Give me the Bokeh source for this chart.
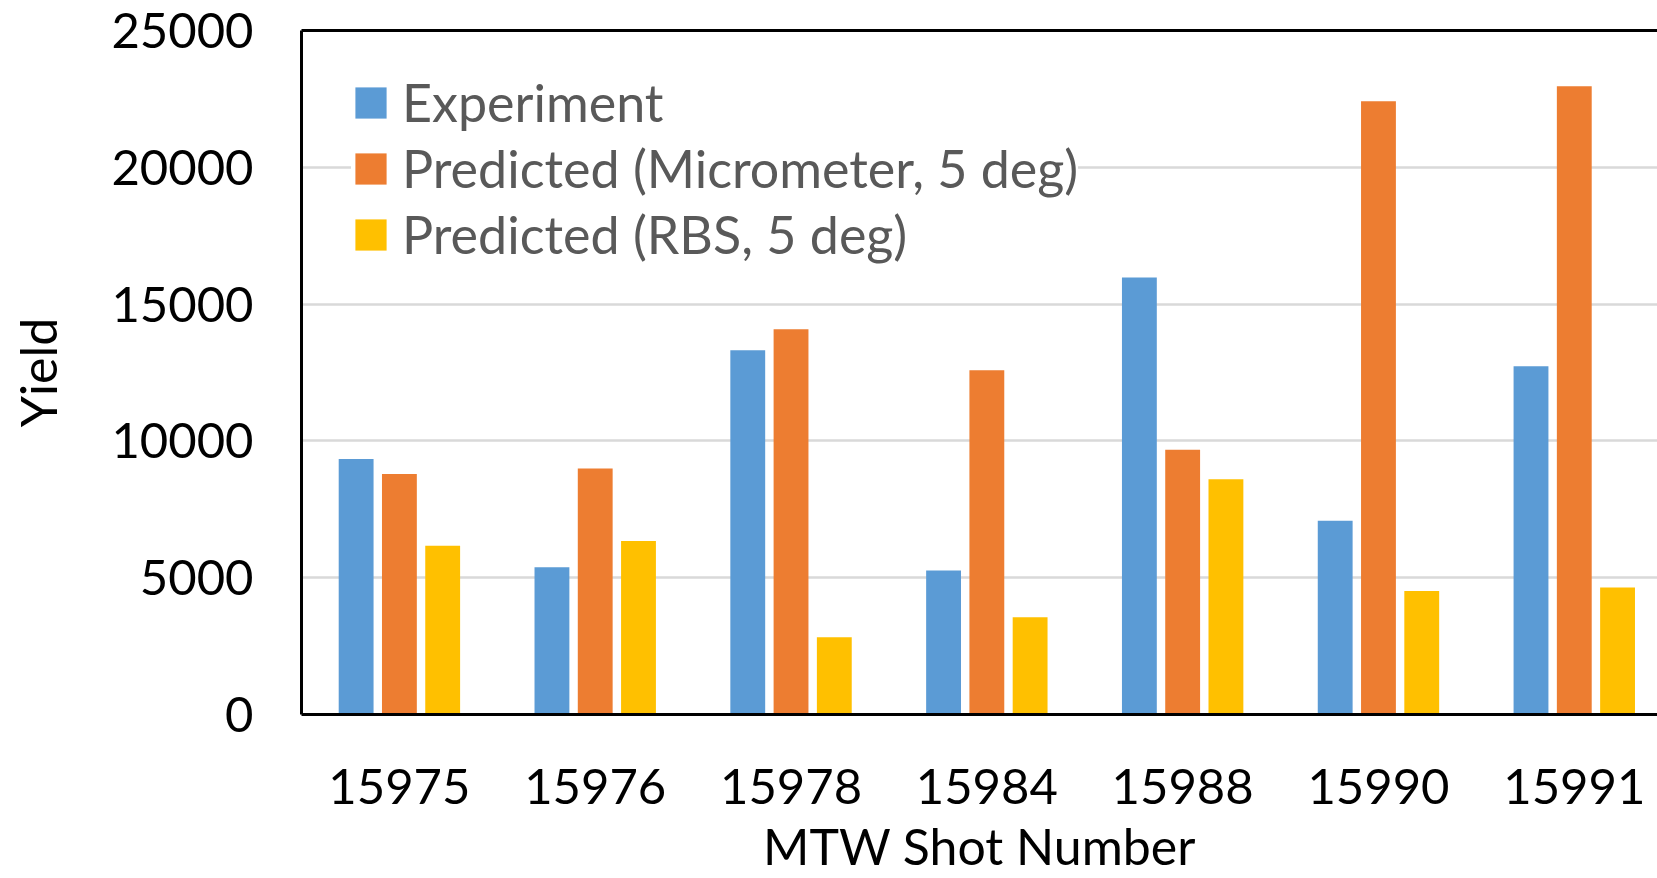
from bokeh.plotting import figure
from bokeh.models import ColumnDataSource, Range1d, FixedTicker, LinearAxis, Legend, LegendItem
from bokeh.transform import dodge
from bokeh.embed import file_html
from bokeh.resources import INLINE

shots = ["15975", "15976", "15978", "15984", "15988", "15990", "15991"]
experiment = [9340, 5380, 13310, 5260, 15970, 7080, 12730]
pred_micrometer = [8790, 8990, 14080, 12580, 9680, 22410, 22960]
pred_rbs = [6170, 6340, 2820, 3550, 8600, 4510, 4640]
series_names = ["Experiment", "Predicted (Micrometer, 5 deg)", "Predicted (RBS, 5 deg)"]
y_ticks = [0, 5000, 10000, 15000, 20000, 25000]

colors = ["#5B9BD5", "#ED7D31", "#FFC000"]
FONT = "Lato"

src = ColumnDataSource(dict(idx=list(range(len(shots))), exp=experiment,
                            mic=pred_micrometer, rbs=pred_rbs))

p = figure(width=1657, height=878, output_backend="svg", toolbar_location=None,
           x_range=Range1d(-0.5, 6.425), y_range=Range1d(0, 25000),
           min_border_left=301, min_border_right=0, min_border_top=30, min_border_bottom=164)
p.outline_line_color = None

bw = 0.178
off = 0.221
r1 = p.vbar(x=dodge("idx", -off), top="exp", width=bw, source=src, fill_color=colors[0], line_color=None)
r2 = p.vbar(x=dodge("idx", 0.0), top="mic", width=bw, source=src, fill_color=colors[1], line_color=None)
r3 = p.vbar(x=dodge("idx", off), top="rbs", width=bw, source=src, fill_color=colors[2], line_color=None)

# axes
p.xaxis.ticker = FixedTicker(ticks=list(range(len(shots))))
p.xaxis.major_label_overrides = {i: s for i, s in enumerate(shots)}
p.yaxis.ticker = FixedTicker(ticks=y_ticks)
for ax in (p.xaxis[0], p.yaxis[0]):
    ax.axis_line_color = "black"
    ax.axis_line_width = 3
    ax.major_tick_line_color = None
    ax.minor_tick_line_color = None
    ax.major_label_text_font = FONT
    ax.major_label_text_font_size = "49px"
    ax.major_label_text_color = "black"
    ax.axis_label_text_font = FONT
    ax.axis_label_text_font_size = "50px"
    ax.axis_label_text_font_style = "normal"
    ax.axis_label_text_color = "black"
p.xaxis.axis_label = "MTW Shot Number"
p.yaxis.axis_label = "Yield"
p.xaxis.major_label_standoff = 48
p.xaxis.axis_label_standoff = 9
p.yaxis.major_label_standoff = 42
p.yaxis.axis_label_standoff = 40

top_axis = LinearAxis(ticker=FixedTicker(ticks=[]), major_label_text_font_size="0px",
                      major_tick_line_color=None, minor_tick_line_color=None,
                      axis_line_color="black", axis_line_width=3)
p.add_layout(top_axis, "above")

p.xgrid.grid_line_color = None
p.ygrid.ticker = FixedTicker(ticks=y_ticks)
p.ygrid.grid_line_color = "#D9D9D9"
p.ygrid.grid_line_width = 2.5

legend = Legend(items=[LegendItem(label=series_names[0], renderers=[r1]),
                       LegendItem(label=series_names[1], renderers=[r2]),
                       LegendItem(label=series_names[2], renderers=[r3])],
                location=(50, 449))
legend.label_text_font = FONT
legend.label_text_font_size = "52px"
legend.label_text_color = "#595959"
legend.glyph_width = 39
legend.glyph_height = 39
legend.label_standoff = 12
legend.spacing = 4
legend.padding = 12
legend.margin = 0
legend.border_line_color = None
legend.background_fill_color = "white"
legend.background_fill_alpha = 1.0
p.add_layout(legend, "center")

open("out.html", "w").write(file_html(p, INLINE))
